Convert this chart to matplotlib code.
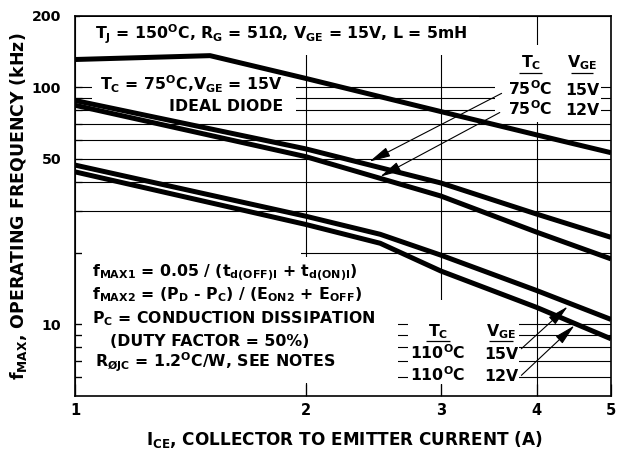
import matplotlib
matplotlib.use("Agg")
import matplotlib.pyplot as plt
from matplotlib.patches import Rectangle
from matplotlib.ticker import FixedLocator, NullFormatter

# collector current (A) and max operating frequency (kHz)
ice_top = [1.0, 1.5, 2.0, 3.0, 4.0, 5.0]
fmax_top = [131, 136, 109, 79, 63, 53]

ice_75 = [1.0, 2.0, 3.0, 4.0, 5.0]
fmax_75_15v = [88, 55, 39.5, 29.2, 23.3]
fmax_75_12v = [84, 51, 34.8, 24.5, 18.9]

ice_110 = [1.0, 2.0, 2.5, 3.0, 4.0, 5.0]
fmax_110_15v = [47, 28.6, 24, 19.6, 13.9, 10.5]
fmax_110_12v = [44, 26.4, 22, 16.8, 11.8, 8.7]

x_ticks = [1, 2, 3, 4, 5]
y_major = [10, 50, 100, 200]
y_minor = [6, 7, 8, 9, 20, 30, 40, 60, 70, 80, 90]

plt.rcParams["font.family"] = "DejaVu Sans"
plt.rcParams["font.weight"] = "bold"
plt.rcParams["mathtext.fontset"] = "custom"
plt.rcParams["mathtext.rm"] = "DejaVu Sans:bold"
plt.rcParams["mathtext.it"] = "DejaVu Sans:bold"
plt.rcParams["mathtext.bf"] = "DejaVu Sans:bold"
plt.rcParams["mathtext.default"] = "rm"

FS = 11.3


def mask(ax, x0, y0, w, h):
    # white backing behind the labels, hides the grid like the datasheet does
    ax.add_patch(Rectangle((x0, y0), w, h, transform=ax.transAxes,
                           facecolor="white", edgecolor="none", zorder=1))


def underline(ax, x0, x1, y):
    ax.plot([x0, x1], [y, y], transform=ax.transAxes, color="black",
            lw=0.9, zorder=3, solid_capstyle="butt")


def label(ax, x, y, s, ha="left"):
    ax.text(x, y, s, transform=ax.transAxes, ha=ha, va="baseline",
            fontsize=FS, fontweight="bold", zorder=3)


fig = plt.figure(figsize=(6.17, 4.55), dpi=100)
ax = fig.add_axes([0.1216, 0.130, 0.8687, 0.835])
ax.set_xscale("log")
ax.set_yscale("log")
ax.set_xlim(1, 5)
ax.set_ylim(5, 200)
ax.set_axisbelow(True)

ax.xaxis.set_major_locator(FixedLocator(x_ticks))
ax.xaxis.set_minor_locator(FixedLocator([]))
ax.set_xticklabels([str(t) for t in x_ticks])
ax.yaxis.set_major_locator(FixedLocator(y_major))
ax.yaxis.set_minor_locator(FixedLocator(y_minor))
ax.set_yticklabels([str(t) for t in y_major])
ax.yaxis.set_minor_formatter(NullFormatter())

ax.tick_params(axis="x", which="major", direction="in", length=9, width=0.9,
               pad=5, labelsize=10.5)
ax.tick_params(axis="y", which="both", direction="in", length=5, width=0.9,
               pad=10, labelsize=10.2)
for lab in ax.get_xticklabels() + ax.get_yticklabels():
    lab.set_fontweight("bold")

ax.grid(True, which="major", axis="x", color="black", lw=0.8)
ax.grid(True, which="both", axis="y", color="black", lw=0.8)
for sp in ax.spines.values():
    sp.set_linewidth(1.2)

# masks behind text blocks
mask(ax, 0.009, 0.897, 0.745, 0.100)
mask(ax, 0.032, 0.737, 0.380, 0.111)
mask(ax, 0.783, 0.721, 0.199, 0.203)
mask(ax, 0.013, 0.034, 0.590, 0.332)
mask(ax, 0.013, 0.034, 0.408, 0.353)
mask(ax, 0.622, 0.032, 0.206, 0.221)

lw = 3.6
ax.plot(ice_top, fmax_top, color="black", lw=lw, zorder=2, solid_capstyle="butt")
ax.plot(ice_75, fmax_75_15v, color="black", lw=lw, zorder=2, solid_capstyle="butt")
ax.plot(ice_75, fmax_75_12v, color="black", lw=lw, zorder=2, solid_capstyle="butt")
ax.plot(ice_110, fmax_110_15v, color="black", lw=lw, zorder=2, solid_capstyle="butt")
ax.plot(ice_110, fmax_110_12v, color="black", lw=lw, zorder=2, solid_capstyle="butt")

# text
label(ax, 0.037, 0.939, r"T$_J$ = 150$^O$C, R$_G$ = 51Ω, V$_{GE}$ = 15V, L = 5mH")
label(ax, 0.388, 0.805, r"T$_C$ = 75$^O$C,V$_{GE}$ = 15V", ha="right")
label(ax, 0.388, 0.750, "IDEAL DIODE", ha="right")

label(ax, 0.850, 0.866, r"T$_C$", ha="center")
label(ax, 0.946, 0.866, r"V$_{GE}$", ha="center")
underline(ax, 0.828, 0.872, 0.850)
underline(ax, 0.926, 0.966, 0.850)
label(ax, 0.850, 0.792, r"75$^O$C", ha="center")
label(ax, 0.946, 0.792, "15V", ha="center")
label(ax, 0.850, 0.739, r"75$^O$C", ha="center")
label(ax, 0.946, 0.739, "12V", ha="center")

label(ax, 0.032, 0.313, r"f$_{MAX1}$ = 0.05 / (t$_{d(OFF)I}$ + t$_{d(ON)I}$)")
label(ax, 0.032, 0.253, r"f$_{MAX2}$ = (P$_D$ - P$_C$) / (E$_{ON2}$ + E$_{OFF}$)")
label(ax, 0.032, 0.192, r"P$_C$ = CONDUCTION DISSIPATION")
label(ax, 0.252, 0.132, "(DUTY FACTOR = 50%)", ha="center")
label(ax, 0.037, 0.076, r"R$_{ØJC}$ = 1.2$^O$C/W, SEE NOTES")

label(ax, 0.677, 0.158, r"T$_C$", ha="center")
label(ax, 0.795, 0.158, r"V$_{GE}$", ha="center")
underline(ax, 0.655, 0.699, 0.145)
underline(ax, 0.772, 0.818, 0.145)
label(ax, 0.677, 0.097, r"110$^O$C", ha="center")
label(ax, 0.795, 0.097, "15V", ha="center")
label(ax, 0.677, 0.040, r"110$^O$C", ha="center")
label(ax, 0.795, 0.040, "12V", ha="center")

# arrows from the legend text to the curves (tip, tail)
arrows = [((2.42, 48.6), (3.60, 94.3)),
          ((2.50, 42.0), (3.58, 78.3)),
          ((4.39, 11.9), (3.82, 7.9)),
          ((4.48, 9.9), (3.82, 6.1))]
for tip, tail in arrows:
    ax.annotate("", xy=tip, xytext=tail, zorder=3,
                arrowprops=dict(arrowstyle="-|>,head_length=0.65,head_width=0.15",
                                mutation_scale=20, color="black", lw=0.8,
                                shrinkA=0, shrinkB=0))

ax.set_xlabel(r"I$_{CE}$, COLLECTOR TO EMITTER CURRENT (A)", fontsize=12.2,
              fontweight="bold", va="center")
ax.set_ylabel(r"f$_{MAX}$, OPERATING FREQUENCY (kHz)", fontsize=12.5,
              fontweight="bold", va="center")
ax.xaxis.set_label_coords(0.503, -0.116)
ax.yaxis.set_label_coords(-0.105, 0.5)

fig.savefig("out.png", dpi=100)
